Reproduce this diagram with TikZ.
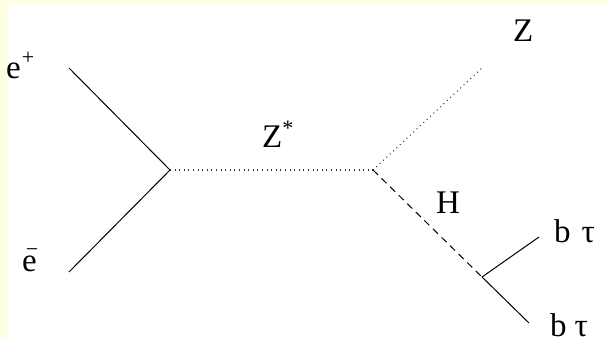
\documentclass[tikz,border=0pt]{standalone}
\usepackage{fontspec}
\setmainfont{Liberation Serif}
\definecolor{paleyellow}{RGB}{255,255,228}
\newcommand{\supr}[2][14pt]{\raisebox{#1}{\fontsize{22}{24}\selectfont #2}}
\begin{document}
\begin{tikzpicture}[x=1pt,y=-1pt,
  lbl/.style={inner sep=0pt,anchor=base west,font=\fontsize{33}{36}\selectfont},
  fermion/.style={draw=black,line width=1pt},
  zboson/.style={draw=black!80,line width=1.1pt,dash pattern=on 1pt off 3.6pt},
  higgs/.style={draw=black,line width=1pt,dash pattern=on 7pt off 5pt}]
\useasboundingbox (0,0) rectangle (607,338);
\clip (0,0) rectangle (607,338);
\fill[paleyellow] (0,0) rectangle (607,338);
\fill[white] (8,6) rectangle (607,338);
% vertices and free ends
\coordinate (ep) at (69,68);
\coordinate (em) at (69,272);
\coordinate (v1) at (170,170);
\coordinate (v2) at (373,170);
\coordinate (zend) at (483,67);
\coordinate (v3) at (482,277);
\coordinate (bt1) at (539,237);
\coordinate (bt2) at (529,323);
% labels
\node[lbl] (lep) at (6,78) {e\kern1pt\supr{+}};
\node[lbl] (lem) at (22,271) {e\kern-11pt\supr[15pt]{−}};
\node[lbl] (lzs) at (262,147) {Z\supr[12pt]{*}};
\node[lbl] (lz) at (513,41) {Z};
\node[lbl] (lh) at (436,213) {H};
\node[lbl] (lb1) at (554,242) {b\hspace{11pt}τ};
\node[lbl] (lb2) at (550,336) {b\hspace{8pt}τ};
% lines
\draw[fermion] (ep) -- (v1) -- (em);
\draw[zboson] (v1) -- (v2);
\draw[zboson] (v2) -- (zend);
\draw[higgs] (v2) -- (v3);
\draw[fermion] (bt1) -- (v3) -- (bt2);
\end{tikzpicture}
\end{document}
